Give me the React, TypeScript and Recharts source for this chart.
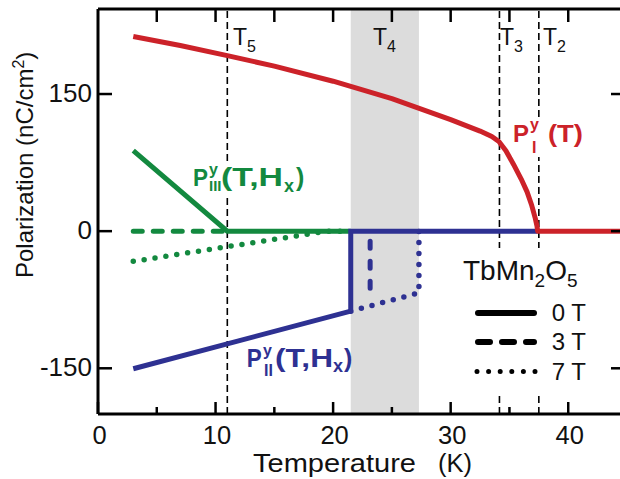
import React from 'react';
import { LineChart, Line, XAxis, YAxis, ReferenceLine, ReferenceArea } from 'recharts';

// Temperature (K) / polarization (nC/cm^2)
const redT = [3, 7, 11, 15, 20, 25, 30, 32.5, 33.5, 34.1, 34.7, 35.35, 36, 36.5, 36.9, 37.2, 37.35, 37.4, 45];
const redP = [213, 203, 192, 180.5, 164, 145, 122, 109.5, 103.5, 98, 88, 73, 57, 43, 28, 14, 5, 0, 0];

const green0T = [3, 11, 21.5];
const green0P = [88, 0, 0];
const green3T = [3, 11];
const green3P = [0, 0];
const green7T = [3, 11, 19.5, 21.5];
const green7P = [-33, -17, 0, 0];

const blue0T = [3, 21.5, 21.5, 37.4];
const blue0P = [-150.5, -87.5, 0, 0];
const blue3T = [23.15, 23.15];
const blue3P = [0, -72];
const blue7T = [21.5, 27.3, 27.3];
const blue7P = [-87.5, -67.5, 0];

const transitions = [11, 34.15, 37.5]; // T5, T3, T2
const bandT4 = [21.5, 27.3];

const X_MAX = 45;
const Y_DOMAIN = [-200, 243];
const xTicks = [0, 5, 10, 15, 20, 25, 30, 35, 40];
const xTopTicks = [5, 10, 15, 20, 25, 30, 35, 40];
const yTicks = [-150, 0, 150];

const RED = '#cc2229';
const GREEN = '#13893f';
const BLUE = '#2e3192';
const font = '"Liberation Sans", Arial, Helvetica, sans-serif';

// plot box in page pixels (the right frame sits just past the visible edge)
const PLOT_TOP = 9;
const PLOT_H = 405;
const yPix = (v: number) => PLOT_TOP + ((Y_DOMAIN[1] - v) / (Y_DOMAIN[1] - Y_DOMAIN[0])) * PLOT_H;

const zip = (xs: number[], ys: number[]) => xs.map((t, i) => ({ t, p: ys[i] }));

const BottomTick = ({ x, y, payload }: any) => {
  const major = payload.value % 10 === 0;
  return (
    <g>
      <line x1={x} x2={x} y1={y} y2={y - (major ? 12 : 7)} stroke="#000" strokeWidth={2.5} />
      {major && (
        <text x={x + 1.5} y={y + 29.5} textAnchor="middle" fontSize={25.5} fontFamily={font} fill="#111">
          {payload.value}
        </text>
      )}
    </g>
  );
};

const TopTick = ({ x, y }: any) => (
  <line x1={x} x2={x} y1={y} y2={y + 13} stroke="#000" strokeWidth={2.5} />
);

const LeftTick = ({ x, y, payload }: any) => (
  <g>
    <line x1={x} x2={x + 14} y1={y} y2={y} stroke="#000" strokeWidth={2.5} />
    <text x={x - 6} y={y + 8} textAnchor="end" fontSize={26} fontFamily={font} fill="#111">
      {payload.value}
    </text>
  </g>
);

const axisLine = { stroke: '#000', strokeWidth: 3 };
const lineBase = { xAxisId: 'b', yAxisId: 'l', dataKey: 'p', type: 'linear' as const, dot: false, activeDot: false, isAnimationActive: false };

export default function App() {
  return (
    <div style={{ position: 'absolute', left: 0, top: 0, width: 620, height: 479, overflow: 'hidden', background: '#fff' }}>
      <LineChart width={640} height={479} margin={{ top: 0, right: 13, bottom: 0, left: 0 }}>
        <XAxis xAxisId="b" dataKey="t" type="number" domain={[0, X_MAX]} ticks={xTicks} interval={0}
          height={65} tickSize={0} tickMargin={0} tickLine={false} tick={BottomTick} axisLine={axisLine} allowDataOverflow />
        <XAxis xAxisId="t" orientation="top" dataKey="t" type="number" domain={[0, X_MAX]} ticks={xTopTicks} interval={0}
          height={PLOT_TOP} tickSize={0} tickMargin={0} tickLine={false} tick={TopTick} axisLine={axisLine} allowDataOverflow />
        <YAxis yAxisId="l" dataKey="p" type="number" domain={Y_DOMAIN} ticks={yTicks} interval={0}
          width={98} tickSize={0} tickMargin={0} tickLine={false} tick={LeftTick} axisLine={axisLine} allowDataOverflow />

        <ReferenceArea xAxisId="b" yAxisId="l" x1={bandT4[0]} x2={bandT4[1]} fill="#dcdcdc" fillOpacity={1} stroke="none" />
        {transitions.map((t) => (
          <ReferenceLine key={t} xAxisId="b" yAxisId="l" x={t} stroke="#000" strokeWidth={1.6} strokeDasharray="7 4" />
        ))}

        <Line {...lineBase} data={zip(green7T, green7P)} stroke={GREEN} strokeWidth={5.5} strokeDasharray="0 11" strokeLinecap="round" />
        <Line {...lineBase} data={zip(green3T, green3P)} stroke={GREEN} strokeWidth={5} strokeDasharray="9 11" strokeLinecap="round" />
        <Line {...lineBase} data={zip(green0T, green0P)} stroke={GREEN} strokeWidth={5} />

        <Line {...lineBase} data={zip(blue7T, blue7P)} stroke={BLUE} strokeWidth={5.5} strokeDasharray="0 11" strokeLinecap="round" />
        <Line {...lineBase} data={zip(blue3T, blue3P)} stroke={BLUE} strokeWidth={5} strokeDasharray="7 13" strokeDashoffset={10} strokeLinecap="round" />
        <Line {...lineBase} data={zip(blue0T, blue0P)} stroke={BLUE} strokeWidth={5} />

        <Line {...lineBase} data={zip(redT, redP)} stroke={RED} strokeWidth={5} strokeLinejoin="round" />
      </LineChart>

      <svg width={620} height={479} style={{ position: 'absolute', left: 0, top: 0, pointerEvents: 'none' }} fontFamily={font}>
        {/* inward ticks of the right frame */}
        {yTicks.map((v) => (
          <line key={v} x1={611} x2={620} y1={yPix(v)} y2={yPix(v)} stroke="#000" strokeWidth={2.5} />
        ))}

        {/* transition labels */}
        <text x={233} y={45} fontSize={23} fill="#111">T<tspan fontSize={16} dy={7}>5</tspan></text>
        <text x={373} y={45} fontSize={23} fill="#111">T<tspan fontSize={16} dy={7}>4</tspan></text>
        <text x={500} y={45} fontSize={23} fill="#111">T<tspan fontSize={16} dy={7}>3</tspan></text>
        <text x={543} y={45} fontSize={23} fill="#111">T<tspan fontSize={16} dy={7}>2</tspan></text>

        {/* P_III */}
        <rect x={192} y={162} width={124} height={33} fill="#fff" />
        <g fill={GREEN} fontWeight="bold">
          <text x={193} y={186} fontSize={24} textLength={15} lengthAdjust="spacingAndGlyphs">P</text>
          <text x={209} y={175} fontSize={16}>y</text>
          <text x={209} y={191} fontSize={15}>III</text>
          <text x={221} y={186} fontSize={25} textLength={62} lengthAdjust="spacingAndGlyphs">(T,H</text>
          <text x={284} y={191.5} fontSize={18}>x</text>
          <text x={296} y={186} fontSize={25}>)</text>
        </g>

        {/* P_I */}
        <rect x={512} y={117} width={74} height={40} fill="#fff" />
        <g fill={RED} fontWeight="bold">
          <text x={513} y={141.7} fontSize={24}>P</text>
          <text x={530} y={130} fontSize={16}>y</text>
          <text x={532} y={153} fontSize={16}>I</text>
          <text x={548} y={141.7} fontSize={24} textLength={35} lengthAdjust="spacingAndGlyphs">(T)</text>
        </g>

        {/* P_II */}
        <g fill={BLUE} fontWeight="bold">
          <text x={246.7} y={366.7} fontSize={25} textLength={15} lengthAdjust="spacingAndGlyphs">P</text>
          <text x={263} y={356} fontSize={16}>y</text>
          <text x={264} y={376} fontSize={16}>II</text>
          <text x={275} y={366.7} fontSize={25} textLength={58} lengthAdjust="spacingAndGlyphs">(T,H</text>
          <text x={333} y={372} fontSize={18}>x</text>
          <text x={344} y={366.7} fontSize={25}>)</text>
        </g>

        {/* legend */}
        <rect x={458} y={248} width={147} height={148} fill="#fff" />
        <text x={463} y={280} fontSize={28} fill="#111">
          TbMn<tspan fontSize={19} dy={7}>2</tspan><tspan dy={-7}>O</tspan><tspan fontSize={19} dy={7}>5</tspan>
        </text>
        <line x1={478} x2={534} y1={313} y2={313} stroke="#000" strokeWidth={6} strokeLinecap="round" />
        <line x1={478} x2={534} y1={342} y2={342} stroke="#000" strokeWidth={6} strokeLinecap="round" strokeDasharray="12 12" />
        <line x1={477} x2={535.1} y1={371.5} y2={371.5} stroke="#000" strokeWidth={5} strokeLinecap="round" strokeDasharray="0 11.6" />
        <text x={551.7} y={321} fontSize={24} fill="#111">0 T</text>
        <text x={551.7} y={350} fontSize={24} fill="#111">3 T</text>
        <text x={551.7} y={380} fontSize={24} fill="#111">7 T</text>

        {/* axis titles */}
        <text x={253} y={472} fontSize={25} fill="#111" textLength={163} lengthAdjust="spacingAndGlyphs">Temperature</text>
        <text x={438} y={472} fontSize={25} fill="#111" textLength={34} lengthAdjust="spacingAndGlyphs">(K)</text>
        <text transform="translate(33,278) rotate(-90)" fontSize={24} fill="#111">
          Polarization (nC/cm<tspan fontSize={16} dy={-9}>2</tspan><tspan dy={9}>)</tspan>
        </text>
      </svg>
    </div>
  );
}
